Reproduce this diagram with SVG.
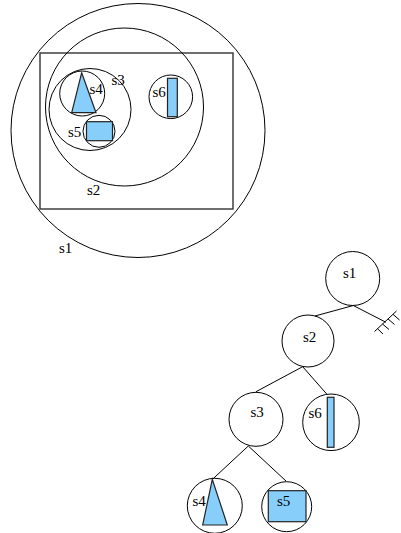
<svg xmlns="http://www.w3.org/2000/svg" width="401" height="533" viewBox="0 0 401 533">
<style>
.c{fill:none;stroke:#000;stroke-width:1}
.sh{fill:#87cefa;stroke:#222;stroke-width:1.2}
.t{font-family:"Liberation Serif","Times New Roman",serif;font-size:15px;fill:#000}
.e{stroke:#000;stroke-width:1;fill:none}
</style>
<rect width="401" height="533" fill="#fff"/>
<g id="venn">
  <g id="v-s1"><circle class="c" cx="138" cy="130.5" r="127"/><text class="t" x="59" y="253">s1</text></g>
  <rect x="40" y="53" width="193" height="156" fill="none" stroke="#333" stroke-width="1.4"/>
  <g id="v-s2"><circle class="c" cx="124.5" cy="107" r="79"/><text class="t" x="87" y="195">s2</text></g>
  <g id="v-s3"><circle class="c" cx="90" cy="109.5" r="41"/><text class="t" x="111.5" y="85">s3</text></g>
  <g id="v-s4"><circle class="c" cx="82.2" cy="93.5" r="22.5"/><polygon class="sh" points="81.7,72.7 71.7,112.7 96,112.7"/><text class="t" x="89.5" y="93.5">s4</text></g>
  <g id="v-s5"><circle class="c" cx="99" cy="131.3" r="16"/><rect class="sh" x="86.5" y="121.7" width="26" height="19"/><text class="t" x="68" y="137">s5</text></g>
  <g id="v-s6"><circle class="c" cx="170.8" cy="96.8" r="21.8"/><rect class="sh" x="167.5" y="78.3" width="9.8" height="38.4"/><text class="t" x="152.5" y="97">s6</text></g>
</g>
<g id="connectors">
  <line class="e" x1="353.3" y1="305.5" x2="315" y2="316"/>
  <line class="e" x1="353.3" y1="305.5" x2="386" y2="322.3"/>
  <line class="e" x1="374.5" y1="331.5" x2="396.5" y2="311"/>
  <line class="e" x1="377.5" y1="328.7" x2="383" y2="334"/>
  <line class="e" x1="382.5" y1="324" x2="389" y2="329.5"/>
  <line class="e" x1="388" y1="318.9" x2="394.5" y2="324.5"/>
  <line class="e" x1="393" y1="314.3" x2="399.5" y2="320"/>
  <line class="e" x1="302.7" y1="366.7" x2="256" y2="391.7"/>
  <line class="e" x1="302.7" y1="366.7" x2="326.7" y2="394"/>
  <line class="e" x1="248.3" y1="446" x2="213" y2="478.8"/>
  <line class="e" x1="248.3" y1="446" x2="286" y2="481"/>
</g>
<g id="t-s1"><circle class="c" cx="352.7" cy="278.5" r="27"/><text class="t" x="343" y="278">s1</text></g>
<g id="t-s2"><circle class="c" cx="308" cy="341" r="26"/><text class="t" x="303" y="342">s2</text></g>
<g id="t-s3"><circle class="c" cx="256" cy="419.3" r="27"/><text class="t" x="250.5" y="416.7">s3</text></g>
<g id="t-s6"><circle class="c" cx="331" cy="422.3" r="28.3"/><rect class="sh" x="327.3" y="397.3" width="6.7" height="50"/><text class="t" x="308.5" y="417.5">s6</text></g>
<g id="t-s4"><circle class="c" cx="214.8" cy="505.8" r="27.5"/><polygon class="sh" points="212.3,479.3 202.7,525 227.3,525"/><text class="t" x="192.5" y="506">s4</text></g>
<g id="t-s5"><circle class="c" cx="286.7" cy="506.7" r="25"/><rect class="sh" x="268.3" y="490.7" width="37.7" height="31"/><text class="t" x="277" y="506">s5</text></g>
</svg>
